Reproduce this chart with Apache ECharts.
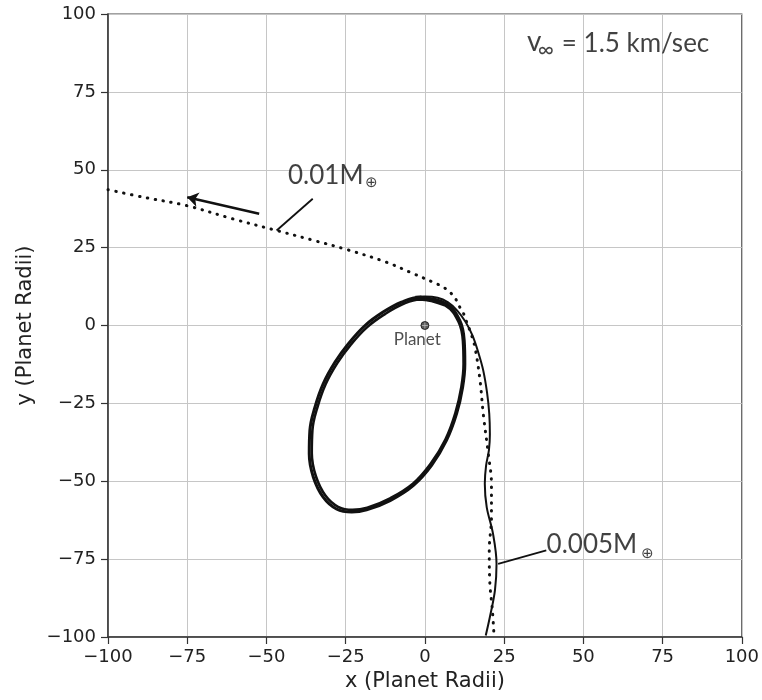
<!DOCTYPE html>
<html>
<head>
<meta charset="utf-8">
<script src="https://cdn.jsdelivr.net/npm/echarts@6/dist/echarts.min.js"></script>
<style>
  html, body { margin: 0; padding: 0; background: #fff; }
  #chart { width: 762px; height: 700px; }
</style>
</head>
<body>
<div id="chart"></div>
<script>
// ---- Data (in planet radii) ----
const axisMin = -100;
const axisMax = 100;
const axisStep = 25;

// 0.01 M_earth trajectory (dotted, flyby)
const dottedX = [-100, -88.9, -75.2, -60.5, -46.8, -35, -24.7, -12.1, -4, 2.6, 5.5, 7.9, 9.7, 11, 12.2, 13, 14.5, 15.8, 17.4, 18.4, 20, 21, 21, 20.3, 20.5, 21.3, 21.8];
const dottedY = [43.6, 41.2, 38.5, 34.2, 30.5, 27.3, 24.4, 20.3, 16.8, 13.9, 12.5, 10.7, 8.5, 5.9, 3.8, 1.6, -2.5, -7, -17.7, -28.3, -41.2, -50.8, -61.5, -72.2, -82.9, -91.5, -99.5];

// 0.005 M_earth trajectory (thin solid, approach before capture)
const thinX = [19.2, 20.5, 22.1, 22.6, 21.5, 19.5, 18.9, 19.3, 20.2, 20.5, 20.3, 19.6, 18.4, 16.8, 15.0, 12.8, 10.2, 7.2, 4, 0, -3];
const thinY = [-99.5, -93.6, -85, -76.5, -66.9, -58.3, -50.8, -45, -40, -35, -28.3, -21.5, -14.4, -8.5, -3.2, 1.2, 4.8, 7.5, 8.9, 9.3, 9.2];

// captured orbit (thick overlapping loops)
const orbitAX = [-1.6, 6.8, 11.0, 12.4, 12.6, 11.9, 10.0, 6.8, 2.1, -3.7, -11.0, -18.4, -23.1, -27.9, -32.1, -35.2, -36.5, -36.3, -34.7, -32.1, -28.4, -24.2, -18.9, -13.2, -7.4, -1.6, 6.8];
const orbitAY = [9.1, 7.0, 1.6, -4.8, -12.3, -19.8, -28.3, -36.9, -44.9, -51.4, -56.2, -59.2, -59.9, -58.9, -55.1, -48.7, -41.2, -33.7, -26.2, -18.7, -11.8, -5.9, 0, 4.3, 7.5, 9.1, 7.0];
const orbitBX = [-1.6, 6.5, 10.6, 12.0, 12.2, 11.5, 9.6, 6.5, 1.8, -3.8, -11.0, -18.2, -22.8, -27.4, -31.4, -34.4, -35.7, -35.5, -33.9, -31.3, -27.6, -23.5, -18.3, -12.7, -7.1, -1.6, 6.5];
const orbitBY = [8.4, 6.4, 1.2, -5.0, -12.3, -19.7, -28.1, -36.5, -44.4, -50.8, -55.5, -58.5, -59.2, -58.2, -54.6, -48.4, -41.0, -33.6, -26.2, -18.8, -12.0, -6.3, -0.6, 3.6, 6.8, 8.4, 6.4];

// planet
const planetPos = [0, 0];

// annotation texts
const annTexts = ['0.01M', '\u2295', '0.005M', '\u2295', 'v', '\u221E', '= 1.5 km/sec', 'Planet'];
const annX = [-43.2, -16.7, 38.4, 70.2, 32.2, 38.2, 43.2, -2.4];
const annY = [48.2, 45.9, -70.3, -73.2, 90.9, 88.4, 90.6, -4.6];

// annotation leader lines and arrow [x1, y1, x2, y2]
const arrowSeg = [-52.3, 35.9, -75, 41.2];
const leader1 = [-35.4, 40.7, -46.8, 30.5];
const leader2 = [38.3, -72.2, 23.1, -76.5];

// ---- Build ----
const zip = (xs, ys) => xs.map((x, i) => [x, ys[i]]);
const fmt = v => (v < 0 ? '\u2212' + Math.abs(v) : String(v));

const annStyles = [
  { fontSize: 26, align: 'left' },
  { fontSize: 15, align: 'center' },
  { fontSize: 26, align: 'left' },
  { fontSize: 15, align: 'center' },
  { fontSize: 28, align: 'left' },
  { fontSize: 22, align: 'center' },
  { fontSize: 26, align: 'left' },
  { fontSize: 17, align: 'center', color: '#222' }
];

const annData = annTexts.map((t, i) => ({
  name: t,
  value: [annX[i], annY[i]],
  label: {
    show: true,
    formatter: t,
    position: annStyles[i].align === 'left' ? 'right' : 'inside',
    distance: 0,
    fontSize: annStyles[i].fontSize,
    fontFamily: 'Lato',
    color: annStyles[i].color || '#111',
    verticalAlign: 'middle'
  }
}));

const axisCommon = {
  type: 'value',
  min: axisMin,
  max: axisMax,
  interval: axisStep,
  nameLocation: 'middle',
  nameTextStyle: { fontFamily: 'DejaVu Sans', fontSize: 21, color: '#222' },
  axisLine: { show: true, onZero: false, lineStyle: { color: '#333', width: 1.5 } },
  axisTick: { show: true, inside: false, length: 7, lineStyle: { color: '#333', width: 1.2 } },
  axisLabel: { fontFamily: 'DejaVu Sans', fontSize: 18, color: '#222', formatter: fmt, margin: 11 },
  splitLine: { show: true, lineStyle: { color: '#c6c6c6', width: 1 } }
};

const chart = echarts.init(document.getElementById('chart'), null, { renderer: 'canvas' });
chart.setOption({
  backgroundColor: '#fff',
  animation: false,
  grid: { left: 108, right: 20, top: 14, bottom: 63, show: true, borderColor: '#444', borderWidth: 1.2, containLabel: false },
  xAxis: Object.assign({}, axisCommon, { name: 'x (Planet Radii)', nameGap: 27 }),
  yAxis: Object.assign({}, axisCommon, { name: 'y (Planet Radii)', nameGap: 69, nameRotate: 90,
    axisLabel: Object.assign({}, axisCommon.axisLabel, { margin: 12 }) }),
  series: [
    {
      name: '0.01M', type: 'line', data: zip(dottedX, dottedY), smooth: 0.35, showSymbol: false,
      lineStyle: { color: '#111', width: 3, type: [0.5, 7.5], cap: 'round' }, z: 3
    },
    {
      name: '0.005M', type: 'line', data: zip(thinX, thinY), smooth: 0.35, showSymbol: false,
      lineStyle: { color: '#111', width: 2 }, z: 4
    },
    {
      name: 'orbitA', type: 'line', data: zip(orbitAX, orbitAY), smooth: 0.4, showSymbol: false,
      lineStyle: { color: '#111', width: 3 }, z: 4
    },
    {
      name: 'orbitB', type: 'line', data: zip(orbitBX, orbitBY), smooth: 0.4, showSymbol: false,
      lineStyle: { color: '#111', width: 2.6 }, z: 4
    },
    {
      name: 'planet', type: 'scatter', data: [planetPos], symbol: 'circle', symbolSize: 8,
      itemStyle: { color: '#333', borderColor: '#111', borderWidth: 1 }, z: 5
    },
    {
      name: 'planetCross', type: 'scatter', data: [planetPos],
      symbol: 'path://M0,5 L10,5 M5,0 L5,10', symbolSize: 6,
      itemStyle: { color: 'none', borderColor: '#bbb', borderWidth: 1 }, z: 6
    },
    {
      name: 'arrow', type: 'lines', coordinateSystem: 'cartesian2d', polyline: false,
      symbol: ['none', 'arrow'], symbolSize: 11,
      lineStyle: { color: '#111', width: 2.6, opacity: 1, curveness: 0 },
      data: [{ coords: [[arrowSeg[0], arrowSeg[1]], [arrowSeg[2], arrowSeg[3]]] }], z: 5
    },
    {
      name: 'leaders', type: 'lines', coordinateSystem: 'cartesian2d', polyline: false,
      symbol: ['none', 'none'],
      lineStyle: { color: '#111', width: 1.8, opacity: 1, curveness: 0 },
      data: [
        { coords: [[leader1[0], leader1[1]], [leader1[2], leader1[3]]] },
        { coords: [[leader2[0], leader2[1]], [leader2[2], leader2[3]]] }
      ], z: 5
    },
    {
      name: 'annotations', type: 'scatter', symbolSize: 0, data: annData, z: 7,
      itemStyle: { color: 'transparent' }
    }
  ]
});
</script>
</body>
</html>
